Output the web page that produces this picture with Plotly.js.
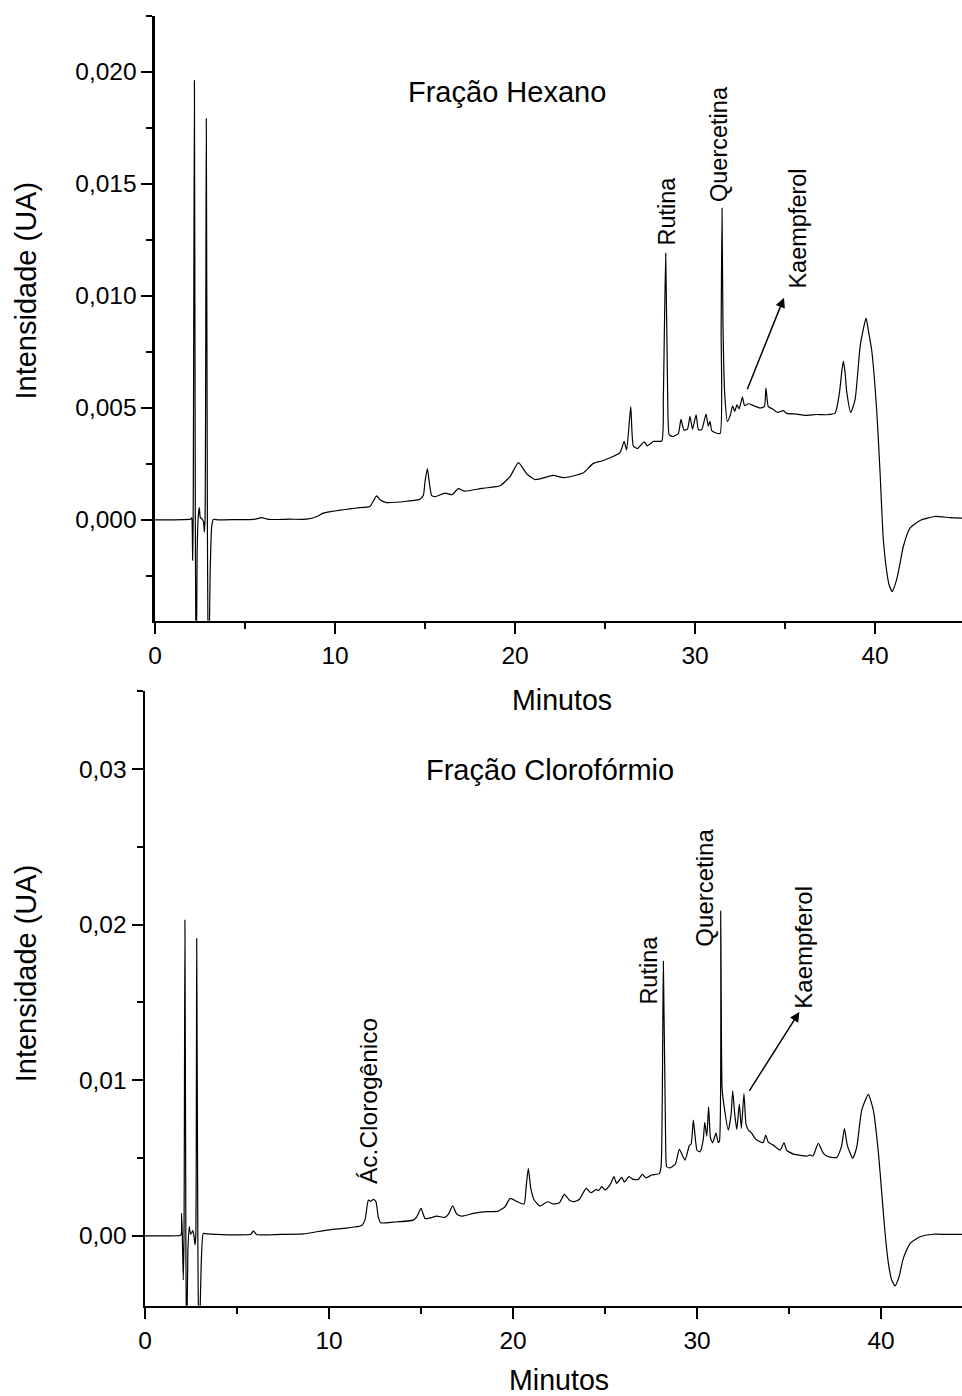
<!DOCTYPE html>
<html>
<head>
<meta charset="utf-8">
<script src="https://cdn.plot.ly/plotly-3.0.1.min.js"></script>
<style>html,body{margin:0;padding:0;background:#fff;}#chart{width:962px;height:1396px;}</style>
</head>
<body>
<div id="chart"></div>
<script>
// ---- Fração Hexano (top) ----
var hexTime = [0, 1.0, 1.9, 2.02, 2.05, 2.09, 2.12, 2.19, 2.24, 2.29, 2.34, 2.40, 2.46, 2.52, 2.60, 2.70, 2.74, 2.78, 2.85, 2.91, 2.97, 3.06, 3.15, 3.24, 3.5, 4.5, 5.5, 5.93, 6.3, 7.5, 8.43, 9.0, 9.35, 10.46, 11.2, 11.94, 12.1, 12.31, 12.5, 12.87, 13.98, 14.72, 14.91, 15.0, 15.13, 15.25, 15.37, 15.56, 16.11, 16.5, 16.85, 17.2, 18.06, 18.33, 19.17, 19.72, 20.19, 20.65, 21.11, 22.13, 22.69, 23.43, 23.8, 24.35, 24.9, 25.83, 26.06, 26.2, 26.43, 26.57, 26.8, 27.17, 27.35, 27.69, 28.15, 28.24, 28.37, 28.48, 28.57, 28.78, 29.07, 29.22, 29.39, 29.58, 29.72, 29.86, 30.06, 30.19, 30.37, 30.61, 30.74, 30.83, 30.93, 31.1, 31.39, 31.45, 31.5, 31.55, 31.65, 31.8, 31.95, 32.09, 32.2, 32.33, 32.45, 32.63, 32.75, 32.96, 33.24, 33.61, 33.85, 33.94, 34.07, 34.3, 34.58, 34.91, 35.09, 35.65, 36.11, 36.76, 37.31, 37.78, 38.02, 38.15, 38.24, 38.33, 38.43, 38.65, 38.89, 39.17, 39.32, 39.5, 39.66, 39.81, 40.09, 40.28, 40.46, 40.69, 40.8, 40.96, 41.11, 41.24, 41.39, 41.57, 41.94, 42.5, 43.33, 44.17, 44.83];
var hexIntensity = [0, 0, 0.00002, 0.00005, 0.0001, -0.0018, 0.0, 0.0196, 0.0, -0.008, -0.0015, 0.0001, 0.00055, 0.0001, 0.00005, -0.0001, -0.00055, 0.0, 0.0179, 0.0, -0.008, -0.0025, -0.0003, 0.00002, 0.0, 0.00001, 0.00002, 0.0001, 0.00002, 0.00003, 0.00003, 0.00015, 0.0003, 0.00045, 0.00053, 0.0006, 0.0008, 0.00107, 0.0009, 0.00077, 0.00083, 0.00092, 0.0011, 0.0017, 0.00229, 0.0016, 0.00108, 0.00104, 0.00119, 0.00112, 0.00139, 0.00128, 0.00139, 0.00142, 0.00152, 0.00193, 0.00255, 0.00205, 0.0018, 0.00198, 0.00188, 0.002, 0.0021, 0.00252, 0.00265, 0.003, 0.0035, 0.00312, 0.00505, 0.0033, 0.00318, 0.00348, 0.0033, 0.0035, 0.00352, 0.0055, 0.0119, 0.0055, 0.00378, 0.00372, 0.00385, 0.00448, 0.004, 0.00405, 0.00462, 0.00405, 0.00468, 0.00402, 0.00402, 0.00472, 0.00418, 0.0044, 0.00398, 0.0039, 0.00385, 0.0085, 0.0139, 0.0088, 0.0056, 0.00439, 0.00465, 0.00509, 0.00484, 0.00513, 0.00495, 0.00548, 0.0051, 0.00518, 0.0051, 0.00499, 0.00505, 0.00588, 0.00505, 0.00495, 0.0048, 0.00487, 0.00475, 0.00472, 0.00466, 0.0047, 0.00469, 0.00476, 0.00566, 0.0066, 0.00708, 0.0066, 0.0057, 0.00479, 0.00536, 0.00774, 0.0084, 0.009, 0.0083, 0.00759, 0.00491, 0.00208, -0.00089, -0.00253, -0.00295, -0.0032, -0.0029, -0.00253, -0.00193, -0.00119, -0.00037, -0.00003, 0.00015, 0.0001, 0.00008];

// ---- Fração Clorofórmio (bottom) ----
var cloTime = [0, 1.0, 1.9, 1.97, 1.99, 2.03, 2.08, 2.12, 2.17, 2.22, 2.26, 2.33, 2.41, 2.47, 2.54, 2.6, 2.66, 2.72, 2.76, 2.81, 2.87, 2.93, 3.05, 3.17, 3.35, 5.16, 5.75, 5.89, 6.07, 7.34, 8.6, 9.87, 11.78, 11.96, 12.14, 12.27, 12.41, 12.55, 12.68, 12.81, 13.5, 14.58, 14.76, 15.0, 15.22, 15.49, 15.85, 16.3, 16.49, 16.72, 16.94, 17.21, 17.84, 18.57, 19.2, 19.57, 19.84, 20.24, 20.6, 20.71, 20.83, 20.96, 21.14, 21.47, 21.87, 22.2, 22.52, 22.79, 23.06, 23.28, 23.6, 23.97, 24.23, 24.52, 24.65, 24.82, 25.0, 25.27, 25.49, 25.63, 25.91, 26.05, 26.3, 26.54, 26.81, 27.03, 27.23, 27.54, 27.95, 28.05, 28.17, 28.3, 28.35, 28.52, 28.82, 29.04, 29.35, 29.58, 29.68, 29.8, 30.0, 30.16, 30.34, 30.42, 30.53, 30.63, 30.73, 30.85, 31.03, 31.15, 31.22, 31.29, 31.36, 31.45, 31.7, 31.85, 31.94, 32.05, 32.16, 32.3, 32.41, 32.55, 32.66, 32.79, 32.97, 33.15, 33.42, 33.6, 33.73, 33.88, 34.15, 34.51, 34.73, 34.87, 35.24, 35.96, 36.14, 36.3, 36.59, 36.87, 37.14, 37.59, 37.86, 38.01, 38.17, 38.46, 38.68, 38.95, 39.31, 39.58, 39.86, 40.04, 40.22, 40.4, 40.58, 40.76, 40.98, 41.21, 41.58, 42.12, 42.84, 43.57, 44.4];
var cloIntensity = [0, 0, 0.00002, 0.0001, 0.00144, 0.0, -0.00284, 0.0, 0.0203, 0.0, -0.008, -0.001, 0.00059, 0.0001, 0.0002, 0.00035, 0.0, -0.00058, 0.0, 0.0191, 0.0, -0.008, -0.002, 0.00016, 0.00012, 0.00006, 0.0001, 0.00032, 0.00008, 0.00009, 0.00012, 0.00037, 0.00067, 0.00104, 0.0023, 0.00222, 0.00234, 0.0022, 0.0012, 0.00084, 0.00088, 0.00101, 0.0012, 0.00177, 0.00111, 0.00115, 0.00126, 0.00119, 0.0014, 0.00193, 0.0014, 0.00126, 0.00144, 0.00155, 0.00159, 0.00187, 0.00241, 0.00219, 0.00204, 0.0031, 0.00433, 0.0031, 0.00232, 0.00191, 0.00219, 0.00204, 0.00213, 0.00266, 0.0023, 0.00219, 0.00233, 0.00305, 0.00277, 0.00298, 0.0029, 0.00316, 0.00295, 0.00327, 0.0038, 0.00337, 0.00376, 0.00345, 0.0038, 0.00363, 0.00363, 0.00395, 0.00373, 0.00391, 0.004, 0.0045, 0.01765, 0.0055, 0.00444, 0.00437, 0.0046, 0.00556, 0.00487, 0.0058, 0.0059, 0.00744, 0.0055, 0.0054, 0.0062, 0.0073, 0.0064, 0.00829, 0.0063, 0.00598, 0.0066, 0.006, 0.0061, 0.0209, 0.0095, 0.0085, 0.0068, 0.0078, 0.00932, 0.0078, 0.00684, 0.00846, 0.0069, 0.00915, 0.0072, 0.0068, 0.0066, 0.00626, 0.00605, 0.006, 0.00647, 0.006, 0.00583, 0.00551, 0.00598, 0.0055, 0.00525, 0.00513, 0.0052, 0.00513, 0.00594, 0.0053, 0.00508, 0.00504, 0.0058, 0.0069, 0.0058, 0.00498, 0.0057, 0.00808, 0.00909, 0.00808, 0.0053, 0.00273, 0.00016, -0.00177, -0.00284, -0.00322, -0.00263, -0.00145, -0.00048, -0.00006, 0.0001, 0.00009, 0.00009];

var FONT = 'Liberation Sans, Arial, Helvetica, sans-serif';

var traces = [
  {x: hexTime, y: hexIntensity, xaxis: 'x', yaxis: 'y', type: 'scatter', mode: 'lines',
   line: {color: '#000', width: 1.2, shape: 'spline', smoothing: 0.5}, hoverinfo: 'skip'},
  {x: cloTime, y: cloIntensity, xaxis: 'x2', yaxis: 'y2', type: 'scatter', mode: 'lines',
   line: {color: '#000', width: 1.2, shape: 'spline', smoothing: 0.5}, hoverinfo: 'skip'}
];

function xAxis(domain, range, anchor) {
  return {domain: domain, range: range, anchor: anchor, tickmode: 'linear', tick0: 0, dtick: 10,
    ticks: 'outside', ticklen: 11, tickwidth: 2, tickcolor: '#000',
    showline: true, linewidth: 2.5, linecolor: '#000', showgrid: false, zeroline: false,
    minor: {dtick: 5, tick0: 0, ticks: 'outside', ticklen: 6, tickwidth: 2, tickcolor: '#000', showgrid: false},
    tickfont: {family: FONT, size: 24.5, color: '#000'}, fixedrange: true};
}
function yAxis(domain, range, anchor, dtick, minorDtick, fmt) {
  return {domain: domain, range: range, anchor: anchor, tickmode: 'linear', tick0: 0, dtick: dtick,
    tickformat: fmt, ticks: 'outside', ticklen: 11, tickwidth: 2, tickcolor: '#000',
    showline: true, linewidth: 2.5, linecolor: '#000', showgrid: false, zeroline: false,
    minor: {dtick: minorDtick, tick0: 0, ticks: 'outside', ticklen: 6, tickwidth: 2, tickcolor: '#000', showgrid: false},
    tickfont: {family: FONT, size: 24.5, color: '#000'}, fixedrange: true};
}

function rotLabel(text, x, y, xref, yref, size) {
  return {text: text, x: x, y: y, xref: xref, yref: yref, showarrow: false, textangle: -90,
    xanchor: 'center', yanchor: 'middle', borderpad: 0, font: {family: FONT, size: size, color: '#000'}};
}
function label(text, x, y, xref, yref, size) {
  return {text: text, x: x, y: y, xref: xref, yref: yref, showarrow: false,
    xanchor: 'center', yanchor: 'middle', borderpad: 0, font: {family: FONT, size: size, color: '#000'}};
}
function arrow(xh, yh, xt, yt, xref, yref) {
  return {text: '', x: xh, y: yh, ax: xt, ay: yt, xref: xref, yref: yref, axref: xref, ayref: yref,
    showarrow: true, arrowhead: 2, arrowsize: 1.3, arrowwidth: 1.5, arrowcolor: '#000', standoff: 0, startstandoff: 0};
}

var layout = {
  width: 962, height: 1396,
  margin: {l: 0, r: 0, t: 0, b: 0},
  paper_bgcolor: '#fff', plot_bgcolor: '#fff',
  separators: ',.',
  showlegend: false,
  font: {family: FONT, color: '#000', size: 24},
  xaxis: xAxis([0.16112, 1], [0, 44.83], 'y'),
  yaxis: yAxis([0.55537, 0.98883], [-0.0045, 0.0225], 'x', 0.005, 0.0025, '.3f'),
  xaxis2: xAxis([0.15073, 1], [0, 44.4], 'y2'),
  yaxis2: yAxis([0.06461, 0.50473], [-0.0045, 0.035], 'x2', 0.01, 0.005, '.2f'),
  annotations: [
    label('Fração Hexano', 19.54, 0.0191, 'x', 'y', 29),
    rotLabel('Rutina', 28.44, 0.0138, 'x', 'y', 23.5),
    rotLabel('Quercetina', 31.33, 0.01677, 'x', 'y', 23.5),
    rotLabel('Kaempferol', 35.67, 0.0130, 'x', 'y', 23.5),
    arrow(34.94, 0.00991, 32.87, 0.00576, 'x', 'y'),
    label('Minutos', 561.7 / 962, 1 - 699.7 / 1396, 'paper', 'paper', 28.6),
    rotLabel('Intensidade (UA)', 25.5 / 962, 1 - 291 / 1396, 'paper', 'paper', 29),

    label('Fração Clorofórmio', 22.01, 0.02992, 'x2', 'y2', 29),
    rotLabel('Ác.Clorogênico', 12.15, 0.00864, 'x2', 'y2', 24.5),
    rotLabel('Rutina', 27.37, 0.01709, 'x2', 'y2', 23.5),
    rotLabel('Quercetina', 30.43, 0.02238, 'x2', 'y2', 24),
    rotLabel('Kaempferol', 35.8, 0.01857, 'x2', 'y2', 24),
    arrow(35.56, 0.01439, 32.79, 0.00922, 'x2', 'y2'),
    label('Minutos', 559 / 962, 1 - 1380 / 1396, 'paper', 'paper', 28.6),
    rotLabel('Intensidade (UA)', 25.5 / 962, 1 - 973.8 / 1396, 'paper', 'paper', 29)
  ]
};

Plotly.newPlot('chart', traces, layout, {displayModeBar: false, staticPlot: true});
</script>
</body>
</html>
